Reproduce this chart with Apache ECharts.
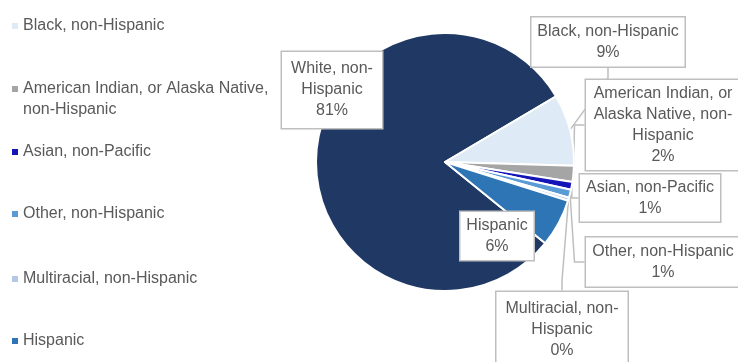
<!DOCTYPE html>
<html>
<head>
<meta charset="utf-8">
<script src="https://cdn.jsdelivr.net/npm/echarts@6/dist/echarts.min.js"></script>
<style>html,body{margin:0;padding:0;background:#fff}#c{width:738px;height:362px}</style>
</head>
<body>
<div id="c"></div>
<script>
// ---- data ----
const categories = ['White, non-Hispanic','Black, non-Hispanic','American Indian, or Alaska Native, non-Hispanic','Asian, non-Pacific','Other, non-Hispanic','Multiracial, non-Hispanic','Hispanic'];
const values = [81, 9, 2, 1, 1, 0.4, 6];
const percentLabels = ['81%','9%','2%','1%','1%','0%','6%'];
const calloutText = [
  ['White, non-','Hispanic'],
  ['Black, non-Hispanic'],
  ['American Indian, or','Alaska Native, non-','Hispanic'],
  ['Asian, non-Pacific'],
  ['Other, non-Hispanic'],
  ['Multiracial, non-','Hispanic'],
  ['Hispanic']
];
const legendItems = ['Black, non-Hispanic','American Indian, or Alaska Native, non-Hispanic','Asian, non-Pacific','Other, non-Hispanic','Multiracial, non-Hispanic','Hispanic'];

// ---- styles / layout ----
const colors = ['#1F3864','#DEEBF7','#A5A5A5','#1414B8','#5B9BD5','#B4C7E7','#2E75B6'];
const boxes = [ // cx, cy, w, h
  [332, 90, 100, 76],
  [608, 42, 153, 49],
  [663, 125, 154, 90],
  [650, 198, 140, 47],
  [663, 262, 154, 49],
  [562, 330, 131, 76],
  [497, 236, 73, 48]
];
const legendCenters = [26, 89, 152, 214, 279, 341];
const FONT = 'Liberation Sans';
const FS = 16;
const TXT = '#595959';
const LH = 21;

const data = categories.map((n, i) => {
  const nLines = calloutText[i].length + 1;
  const vpad = (boxes[i][3] - nLines * LH) / 2;
  return {
    name: n,
    value: values[i],
    itemStyle: { color: colors[i] },
    label: {
      formatter: calloutText[i].join('\n') + '\n' + percentLabels[i],
      width: boxes[i][2],
      padding: [vpad, 0, vpad, 0]
    }
  };
});

const legends = legendItems.map((n, i) => {
  const twoLine = n.length > 30;
  const h = twoLine ? LH * 3 : LH;
  return {
    orient: 'vertical',
    left: 12,
    top: legendCenters[i] - h / 2,
    padding: 0,
    data: [n],
    icon: 'rect',
    itemWidth: 6,
    itemHeight: 6,
    itemGap: 0,
    selectedMode: false,
    itemStyle: { borderWidth: 0 },
    formatter: twoLine ? () => ' \nAmerican Indian, or Alaska Native,\nnon-Hispanic' : undefined,
    textStyle: { fontFamily: FONT, fontSize: FS, color: TXT, lineHeight: LH }
  };
});

const chart = echarts.init(document.getElementById('c'), null, { renderer: 'canvas' });
chart.setOption({
  animation: false,
  color: colors,
  legend: legends,
  series: [{
    type: 'pie',
    center: [445, 162],
    radius: 129,
    startAngle: -39,
    clockwise: true,
    data: data,
    itemStyle: { borderColor: '#ffffff', borderWidth: 2 },
    label: {
      show: true,
      position: 'outside',
      fontFamily: FONT,
      fontSize: FS,
      color: TXT,
      lineHeight: LH,
      align: 'center',
      backgroundColor: '#ffffff',
      borderColor: '#BFBFBF',
      borderWidth: 1.5
    },
    labelLine: {
      show: true,
      length: 10,
      length2: 10,
      lineStyle: { color: '#BFBFBF', width: 1.5 }
    },
    labelLayout: function (p) {
      const b = boxes[p.dataIndex];
      return { x: b[0], y: b[1], align: 'center', verticalAlign: 'middle' };
    }
  }]
});
</script>
</body>
</html>
